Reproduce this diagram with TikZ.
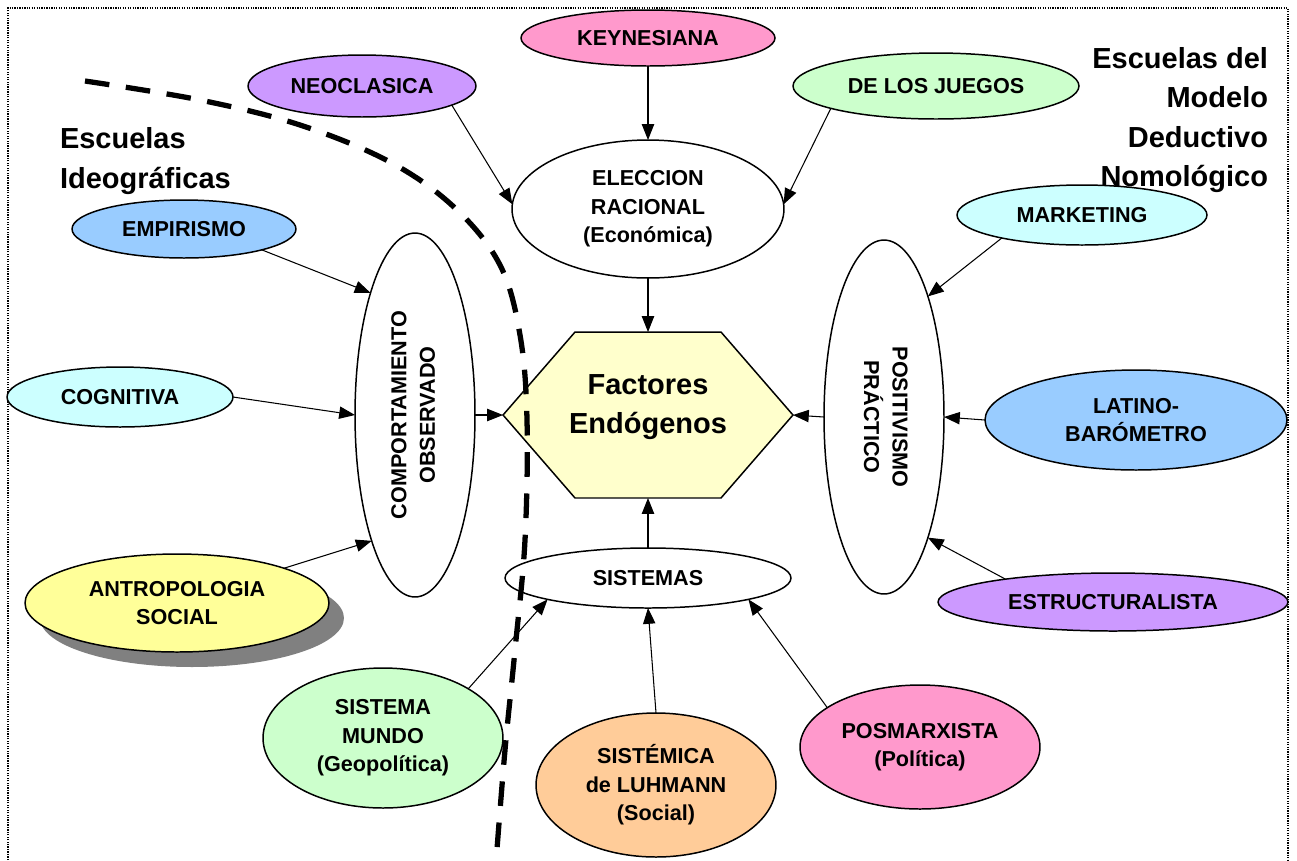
\documentclass[tikz,border=0pt]{standalone}
\usepackage{graphicx}
\usepackage{fontspec}
\setmainfont{Liberation Sans}
\usetikzlibrary{shapes.geometric,arrows.meta,shadows,backgrounds}

\definecolor{rosa}{HTML}{FF99CC}
\definecolor{lila}{HTML}{CC99FF}
\definecolor{verde}{HTML}{CCFFCC}
\definecolor{celeste}{HTML}{CCFFFF}
\definecolor{azul}{HTML}{99CCFF}
\definecolor{amarillo}{HTML}{FFFF99}
\definecolor{naranja}{HTML}{FFCC99}
\definecolor{hexfill}{HTML}{FFFFCC}
\definecolor{sombra}{HTML}{808080}

\tikzset{
  elli/.style={ellipse, draw, line width=0.85pt, inner sep=0pt, outer sep=0pt, align=center,
    font=\bfseries\fontsize{12.3}{16.2}\selectfont},
  sz/.style 2 args={minimum width=#1cm, minimum height=#2cm},
  arr/.style={-{Triangle[length=9pt,width=7pt]}, line width=0.6pt},
  big/.style={inner sep=0pt, outer sep=0pt, font=\bfseries\fontsize{16.5}{22.5}\selectfont},
  frame/.style={line width=0.7pt, dash pattern=on 0.7pt off 0.7pt},
  borde/.style={line width=3pt, dash pattern=on 14pt off 9.5pt},
}

\begin{document}
\begin{tikzpicture}[x=0.02cm, y=-0.02cm]
  %%%%% START %%%%%
  \useasboundingbox (0,0) rectangle (1297,860);
  \draw[frame] (8,860) -- (8,8) -- (1288,8) -- (1288,860);

  % titles
  \node[big, anchor=west, align=left] (ideo) at (60,161) {Escuelas\\Ideográficas};
  \node[big, anchor=east, align=right] (nomo) at (1268,120) {Escuelas del\\Modelo\\Deductivo\\Nomológico};

  % top row
  \node[elli, sz={5.08}{1.12}, fill=rosa] (key) at (648,38) {KEYNESIANA};
  \node[elli, sz={4.56}{1.24}, fill=lila] (neo) at (362,86) {NEOCLASICA};
  \node[elli, sz={5.72}{1.32}, fill=verde] (jue) at (936,86) {DE LOS JUEGOS};
  \node[elli, sz={5.44}{2.76}, fill=white] (elec) at (648,209) {ELECCION\\RACIONAL\\(Económica)};

  % left side
  \node[elli, sz={4.48}{1.16}, fill=azul] (emp) at (184,229) {EMPIRISMO};
  \node[elli, sz={4.52}{1.2}, fill=celeste] (cog) at (120,397) {COGNITIVA};
  \node[elli, sz={6.08}{1.96}, fill=amarillo,
    drop shadow={shadow xshift=0.3cm, shadow yshift=-0.3cm, fill=sombra, opacity=1}] (antro) at (177,603) {ANTROPOLOGIA\\SOCIAL};
  \node[elli, sz={2.4}{7.28}, fill=white] (comp) at (415,415)
    {\rotatebox{90}{\begin{tabular}{@{}c@{}}COMPORTAMIENTO\\OBSERVADO\end{tabular}}};

  % right side
  \node[elli, sz={5.0}{1.2}, fill=celeste] (mkt) at (1082,215) {MARKETING};
  \node[elli, sz={6.04}{2.0}, fill=azul] (lat) at (1136,420) {LATINO-\\BARÓMETRO};
  \node[elli, sz={7.0}{1.16}, fill=lila] (est) at (1113,602) {ESTRUCTURALISTA};
  \node[elli, sz={2.4}{7.08}, fill=white] (pos) at (884,417)
    {\rotatebox{-90}{\begin{tabular}{@{}c@{}}POSITIVISMO\\PRÁCTICO\end{tabular}}};

  % centre
  \node[big, minimum width=5.8cm, minimum height=3.32cm] (fac) at (648,415)
    {\raisebox{5pt}[\height][\depth]{\begin{tabular}{@{}c@{}}Factores\\Endógenos\end{tabular}}};
  \begin{scope}[on background layer]
    \draw[line width=0.85pt, fill=hexfill] (fac.west) -- ([xshift=-1.46cm]fac.north)
      -- ([xshift=1.46cm]fac.north) -- (fac.east) -- ([xshift=1.46cm]fac.south)
      -- ([xshift=-1.46cm]fac.south) -- cycle;
  \end{scope}

  % bottom
  \node[elli, sz={5.72}{1.2}, fill=white] (sis) at (648,578) {SISTEMAS};
  \node[elli, sz={4.8}{2.8}, fill=verde] (mundo) at (383,738) {SISTEMA\\MUNDO\\(Geopolítica)};
  \node[elli, sz={4.8}{2.88}, fill=naranja] (luh) at (656,785) {SISTÉMICA\\de LUHMANN\\(Social)};
  \node[elli, sz={4.8}{2.48}, fill=rosa] (posmx) at (920,747) {POSMARXISTA\\(Política)};

  % arrows
  \draw[arr] (key.south) -- (elec.north);
  \draw[arr] (neo.-12) -- (elec.178);
  \draw[arr] (jue.192) -- (elec.2);
  \draw[arr] (elec.south) -- (fac.north);
  \draw[arr] (emp.-15) -- (comp.110);
  \draw[arr] (cog.east) -- (comp.west);
  \draw[arr] (antro.18) -- (comp.251);
  \draw[arr] (comp.east) -- (fac.west);
  \draw[arr] (mkt.196) -- (pos.70);
  \draw[arr] (lat.west) -- (pos.east);
  \draw[arr] (est.168) -- (pos.-70);
  \draw[arr] (pos.west) -- (fac.east);
  \draw[arr] (sis.north) -- (fac.south);
  \draw[arr] (mundo.30) -- (sis.192);
  \draw[arr] (luh.north) -- (sis.south);
  \draw[arr] (posmx.157) -- (sis.-12);

  % dividing line
  \draw[borde] plot[smooth, tension=0.6] coordinates {(85,81) (200,100) (300,125)
    (390,162) (455,208) (500,265) (520,335) (527,420) (525,540) (515,650) (505,750) (496,862)};
  %%%%% END %%%%%
\end{tikzpicture}
\end{document}
